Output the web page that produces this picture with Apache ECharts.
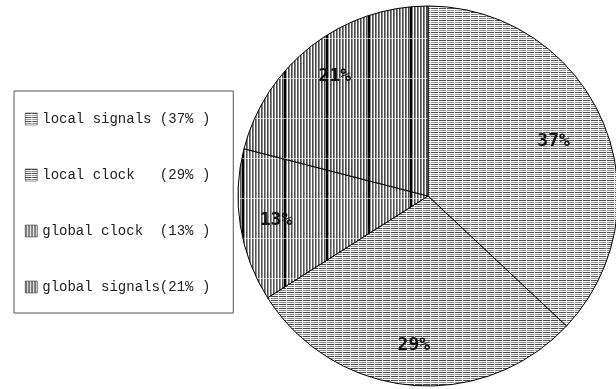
<!DOCTYPE html>
<html>
<head>
<meta charset="utf-8">
<script src="https://cdn.jsdelivr.net/npm/echarts@6/dist/echarts.min.js"></script>
<style>
  html, body { margin: 0; padding: 0; background: #fff; }
  #chart { width: 616px; height: 389px; }
</style>
</head>
<body>
<div id="chart"></div>
<script>
// slice data
const categories = ['local signals', 'local clock', 'global clock', 'global signals'];
const shares = [37, 29, 13, 21];

// where the % labels sit, as a fraction of the radius
const labelRadius = [0.72, 0.79, 0.81, 0.80];

const CX = 428, CY = 196, R = 190;

// hatch tiles
function hatchH(dark, light) {
  const c = document.createElement('canvas');
  c.width = 8; c.height = 4;
  const g = c.getContext('2d');
  g.fillStyle = '#fff'; g.fillRect(0, 0, 8, 4);
  g.fillStyle = dark; g.fillRect(0, 0, 8, 1);
  g.fillStyle = light; g.fillRect(0, 2, 8, 1);
  g.fillStyle = 'rgba(255,255,255,0.7)'; g.fillRect(6, 0, 1, 4);
  return c;
}
function hatchV(dark, light) {
  const c = document.createElement('canvas');
  c.width = 42; c.height = 40;
  const g = c.getContext('2d');
  g.fillStyle = '#fff'; g.fillRect(0, 0, 42, 40);
  for (let x = 0; x < 42; x += 3) {
    g.fillStyle = dark; g.fillRect(x, 0, 1, 40);
    g.fillStyle = light; g.fillRect(x + 1, 0, 1, 40);
  }
  g.fillStyle = '#000'; g.fillRect(32, 0, 2, 40);
  g.fillStyle = 'rgba(255,255,255,0.6)'; g.fillRect(0, 38, 42, 1);
  return c;
}

const fills = [
  { image: hatchH('#555', '#999'), repeat: 'repeat' },
  { image: hatchH('#4a4a4a', '#8a8a8a'), repeat: 'repeat' },
  { image: hatchV('#555', '#999'), repeat: 'repeat' },
  { image: hatchV('#4a4a4a', '#8a8a8a'), repeat: 'repeat' }
];

const total = shares.reduce((a, b) => a + b, 0);

const chart = echarts.init(document.getElementById('chart'), null, { renderer: 'canvas' });

const option = {
  animation: false,
  legend: {
    orient: 'vertical',
    left: 14,
    top: 91,
    padding: [21, 23, 19, 11],
    itemGap: 42,
    itemWidth: 12,
    itemHeight: 12,
    icon: 'rect',
    borderColor: '#555',
    borderWidth: 1,
    itemStyle: { borderColor: '#222', borderWidth: 0.5 },
    textStyle: { fontFamily: 'Liberation Mono', fontSize: 14, color: '#222' },
    formatter: function (name) {
      const i = categories.indexOf(name);
      const pct = Math.round(shares[i] / total * 100);
      return name.padEnd(14, ' ') + '(' + pct + '% )';
    },
    data: categories
  },
  series: [{
    type: 'pie',
    center: [CX, CY],
    radius: [0, R],
    startAngle: 90,
    clockwise: true,
    avoidLabelOverlap: false,
    itemStyle: { borderColor: '#000', borderWidth: 1 },
    label: {
      show: true,
      position: 'inside',
      formatter: '{d}%',
      fontFamily: 'DejaVu Sans Mono',
      fontWeight: 'bold',
      fontSize: 18,
      color: '#111'
    },
    labelLine: { show: false },
    labelLayout: function (p) {
      const r = p.labelRect;
      const dx = r.x + r.width / 2 - CX;
      const dy = r.y + r.height / 2 - CY;
      const d = Math.hypot(dx, dy) || 1;
      const t = labelRadius[p.dataIndex] * R;
      return { x: CX + dx / d * t, y: CY + dy / d * t, align: 'center', verticalAlign: 'middle' };
    },
    emphasis: { disabled: true },
    data: categories.map((name, i) => ({
      name: name,
      value: shares[i],
      itemStyle: { color: fills[i] }
    }))
  }]
};

chart.setOption(option);
</script>
</body>
</html>
